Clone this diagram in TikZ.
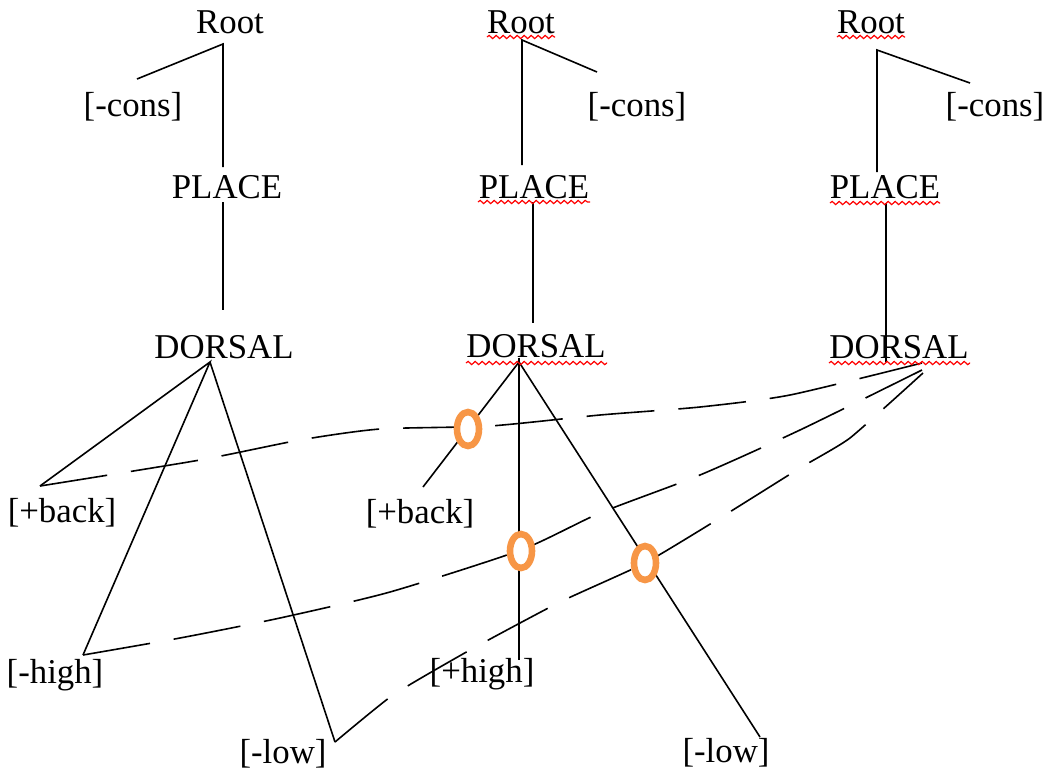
\documentclass[tikz,border=0pt]{standalone}
\usepackage{fontspec}
\setmainfont{Liberation Serif}
\usetikzlibrary{shapes.geometric,decorations.pathmorphing}
\definecolor{ringorange}{HTML}{F79646}
\tikzset{
  lbl/.style={anchor=base,inner sep=0pt,font=\fontsize{17.4}{20}\selectfont},
  link/.style={line width=0.8pt},
  dashlink/.style={line width=0.8pt,dash pattern=on 34pt off 12pt},
  ring/.style={ellipse,draw=ringorange,line width=3.3pt,fill=white,
    minimum width=11pt,minimum height=17pt,inner sep=0pt},
  squiggle/.style={red,line width=0.6pt,decorate,
    decoration={snake,amplitude=0.8pt,segment length=3.5pt}}
}
\begin{document}
\begin{tikzpicture}[x=0.5pt,y=-0.5pt]
\useasboundingbox (0,0) rectangle (1046,773);
% labels
\node[lbl] (root1) at (230,33) {Root};
\node[lbl] (root2) at (521,33) {Root};
\node[lbl] (root3) at (871,33) {Root};
\node[lbl] (cons1) at (133,116) {[-cons]};
\node[lbl] (cons2) at (637,116) {[-cons]};
\node[lbl] (cons3) at (995,116) {[-cons]};
\node[lbl] (place1) at (227,198) {PLACE};
\node[lbl] (place2) at (534,198) {PLACE};
\node[lbl] (place3) at (885,198) {PLACE};
\node[lbl] (dors1) at (224,358) {DORSAL};
\node[lbl] (dors2) at (536,357) {DORSAL};
\node[lbl] (dors3) at (899,358) {DORSAL};
\node[lbl] (back1) at (62,522) {[+back]};
\node[lbl] (back2) at (420,523) {[+back]};
\node[lbl] (high1) at (55,683) {[-high]};
\node[lbl] (high2) at (482,682) {[+high]};
\node[lbl] (low1) at (283,763) {[-low]};
\node[lbl] (low2) at (726,762) {[-low]};
% line ends
\coordinate (r1) at (223,44);
\coordinate (c1) at (137,79);
\coordinate (p1t) at (223,167);
\coordinate (p1b) at (223,202);
\coordinate (d1t) at (223,310);
\coordinate (d1b) at (210,362);
\coordinate (b1) at (40,486);
\coordinate (h1) at (83,655);
\coordinate (l1) at (335,742);
\coordinate (r2) at (522,40);
\coordinate (c2) at (597,72);
\coordinate (p2t) at (522,165);
\coordinate (p2b) at (533,202);
\coordinate (d2t) at (533,323);
\coordinate (d2b) at (519,362);
\coordinate (b2) at (423,487);
\coordinate (h2) at (519,660);
\coordinate (l2) at (760,737);
\coordinate (r3) at (877,50);
\coordinate (c3) at (970,83);
\coordinate (p3t) at (877,172);
\coordinate (p3b) at (886,203);
\coordinate (d3t) at (886,362);
\coordinate (e1) at (922,363);
\coordinate (e2) at (922,370);
\coordinate (e3) at (923,373);
% trees
\draw[link] (c1)--(r1)--(p1t);
\draw[link] (p1b)--(d1t);
\draw[link] (b1)--(d1b)--(h1);
\draw[link] (d1b)--(l1);
\draw[link] (c2)--(r2)--(p2t);
\draw[link] (p2b)--(d2t);
\draw[link] (b2)--(d2b)--(l2);
\draw[link] (d2b|-dors2.south)--(h2);
\draw[link] (c3)--(r3)--(p3t);
\draw[link] (p3b)--(d3t);
% spreading links
\draw[dashlink] plot[smooth,tension=0.4] coordinates {(b1) (200,460) (300,440)
  (380,429) (490,426) (600,415) (700,407) (790,395) (e1)};
\draw[dashlink] plot[smooth,tension=0.4] coordinates {(h1) (180,638) (280,618)
  (390,592) (521,550) (600,513) (700,475) (800,430) (e2)};
\draw[dashlink] plot[smooth,tension=0.3] coordinates {(l1) (393,695) (470,650)
  (560,602) (645,563) (720,518) (800,468) (850,438) (e3)};
% spell check marks
\draw[squiggle] (487,37)--(555,37);
\draw[squiggle] (837,37)--(905,37);
\draw[squiggle] (478,202)--(590,202);
\draw[squiggle] (830,203)--(940,203);
\draw[squiggle] (466,363)--(607,363);
\draw[squiggle] (829,363)--(970,363);
% delinked
\node[ring] (o1) at (468,429) {};
\node[ring] (o2) at (521,551) {};
\node[ring] (o3) at (645,563) {};
\end{tikzpicture}
\end{document}
